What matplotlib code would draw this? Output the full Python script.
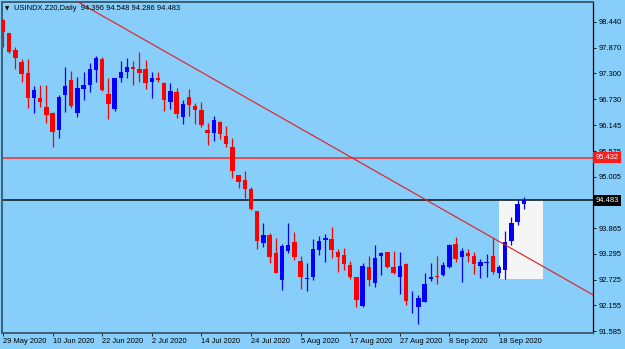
import matplotlib
matplotlib.use("Agg")
import matplotlib.pyplot as plt
from matplotlib.patches import Rectangle

# ---------------- data ----------------
opens = [98.484, 98.189, 97.819, 97.559, 97.302, 96.747, 96.747, 96.548, 96.428, 96.044,
         96.821, 97.153, 96.428, 96.954, 97.042, 97.375, 97.619, 96.843, 96.510, 97.191,
         97.324, 97.448, 97.397, 97.397, 97.102, 97.204, 97.080, 96.659, 96.894, 96.339,
         96.770, 96.583, 96.488, 96.044, 95.971, 96.228, 95.911, 95.660, 95.046, 94.935,
         94.735, 94.247, 93.531, 93.715, 93.309, 92.710, 93.360, 93.553, 93.143, 92.746,
         92.777, 93.382, 93.604, 93.626, 93.345, 93.271, 93.056, 92.783, 92.133, 93.005,
         92.639, 93.238, 93.327, 93.005, 92.777, 93.072, 92.178, 92.125, 92.235, 92.732,
         92.812, 92.828, 93.012, 93.509, 93.234, 93.322, 93.249, 93.034, 93.098, 93.249,
         92.865, 92.939, 93.589, 94.010, 94.396]
highs = [98.507, 98.200, 97.879, 97.613, 97.619, 97.027, 97.042, 97.042, 96.440, 96.821,
         97.448, 97.360, 97.227, 97.338, 97.524, 97.686, 97.670, 97.191, 97.200, 97.575,
         97.648, 97.582, 97.768, 97.597, 97.324, 97.324, 97.100, 97.080, 96.983, 96.710,
         96.947, 96.643, 96.659, 96.193, 96.355, 96.235, 96.133, 95.860, 95.050, 95.141,
         94.786, 94.250, 93.975, 93.766, 93.642, 93.515, 93.988, 93.788, 93.249, 93.094,
         93.620, 93.693, 93.726, 93.886, 93.400, 93.416, 93.138, 92.790, 93.087, 93.249,
         93.493, 93.338, 93.330, 93.360, 93.345, 93.087, 92.473, 92.384, 92.865, 93.087,
         93.256, 93.109, 93.510, 93.677, 93.433, 93.404, 93.345, 93.183, 93.287, 93.642,
         93.050, 93.804, 94.108, 94.491, 94.548]
lows = [97.892, 97.746, 97.391, 97.116, 96.539, 96.415, 96.561, 96.193, 95.674, 95.860,
        96.450, 96.526, 96.339, 96.710, 96.894, 97.116, 96.909, 96.288, 96.466, 97.116,
        97.191, 97.042, 97.116, 96.954, 96.761, 97.116, 96.472, 96.510, 96.317, 96.166,
        96.355, 96.171, 96.117, 95.712, 95.807, 95.838, 95.660, 94.973, 94.764, 94.529,
        94.270, 93.398, 93.442, 93.101, 92.870, 92.495, 93.309, 93.160, 92.517, 92.462,
        92.706, 93.271, 93.123, 93.198, 92.901, 92.939, 92.743, 92.107, 92.120, 92.584,
        92.568, 92.817, 92.980, 92.850, 92.402, 92.162, 91.978, 91.734, 92.220, 92.701,
        92.628, 92.812, 92.990, 93.109, 92.679, 93.123, 92.843, 92.768, 92.790, 92.843,
        92.755, 92.739, 93.493, 93.937, 94.286]
closes = [98.225, 97.781, 97.648, 97.280, 96.747, 96.932, 96.672, 96.377, 96.007, 96.783,
          97.027, 96.583, 96.969, 97.042, 97.397, 97.635, 96.932, 96.621, 97.191, 97.324,
          97.448, 97.404, 97.315, 97.094, 97.191, 97.160, 96.710, 96.909, 96.393, 96.621,
          96.599, 96.488, 96.155, 95.971, 96.266, 95.949, 95.734, 95.141, 94.897, 94.729,
          94.285, 93.589, 93.715, 93.220, 92.879, 93.478, 93.493, 93.234, 92.790, 92.768,
          93.398, 93.589, 93.642, 93.393, 93.216, 93.061, 92.790, 92.262, 93.038, 92.717,
          93.205, 93.316, 92.994, 92.879, 93.027, 92.251, 92.190, 92.324, 92.628, 92.777,
          92.790, 93.050, 93.493, 93.183, 93.360, 93.249, 93.065, 93.123, 93.120, 92.888,
          92.998, 93.553, 93.988, 94.403, 94.483]

date_labels = ["29 May 2020", "10 Jun 2020", "22 Jun 2020", "2 Jul 2020", "14 Jul 2020",
               "24 Jul 2020", "5 Aug 2020", "17 Aug 2020", "27 Aug 2020", "8 Sep 2020",
               "18 Sep 2020"]
date_bar_index = [0, 8, 16, 24, 32, 40, 48, 56, 64, 72, 80]

price_ticks = [98.440, 97.870, 97.300, 96.730, 96.145, 95.575, 95.005, 94.435,
               93.865, 93.295, 92.725, 92.155, 91.585]
# the 94.435 label sits completely under the current-price tag in the reference
price_tick_labels = ["98.440", "97.870", "97.300", "96.730", "96.145", "95.575", "95.005",
                     "", "93.865", "93.295", "92.725", "92.155", "91.585"]

red_level = 95.432
last_price = 94.483
trend_bars = [12.1, 95.2]
trend_prices = [98.884, 92.384]
rect_bars = [80.0, 87.05]
rect_prices = [92.74, 94.483]
title_text = "USINDX.Z20,Daily  94.396 94.548 94.286 94.483"

# ---------------- style ----------------
BG = "#87CEFA"
BULL = "#0000FF"
BEAR = "#FF0000"
FRAME = "#3E5F73"
FONT = "Liberation Sans"
FS = 5.4

W, H = 625, 349
fig = plt.figure(figsize=(W / 100, H / 100), dpi=100, facecolor=BG)
ax = fig.add_axes([2 / W, (H - 332.5) / H, 591.3 / W, 330.8 / H])
ax.set_facecolor(BG)

spacing = 6.2
xmin = -1 / spacing
ax.set_xlim(xmin, xmin + 591.3 / spacing)
ax.set_ylim(91.552, 98.890)

# rectangle object
ax.add_patch(Rectangle((rect_bars[0], rect_prices[0]), rect_bars[1] - rect_bars[0],
                       rect_prices[1] - rect_prices[0], facecolor="#F5F5F5",
                       edgecolor="none", zorder=1))

# horizontal lines
ax.axhline(red_level, color="#FF2A2A", lw=1.1, zorder=1.5)
ax.axhline(last_price, color="#1F2F3A", lw=1.3, zorder=1.5)

# trend line (extended along its direction, clipped by axes)
slope = (trend_prices[1] - trend_prices[0]) / (trend_bars[1] - trend_bars[0])
x0, x1 = trend_bars[0] - 10, trend_bars[1] + 10
ax.plot([x0, x1], [trend_prices[0] + slope * (x0 - trend_bars[0]),
                   trend_prices[0] + slope * (x1 - trend_bars[0])],
        color="#E8191E", lw=0.8, zorder=4)

# candles
xs = list(range(len(opens)))
colors = [BULL if c >= o else BEAR for o, c in zip(opens, closes)]
bottoms = [min(o, c) for o, c in zip(opens, closes)]
heights = [max(abs(c - o), 0.012) for o, c in zip(opens, closes)]
ax.vlines(xs, lows, highs, colors=colors, lw=0.9, zorder=2.8)
ax.bar(xs, heights, bottom=bottoms, width=0.68, color=colors, linewidth=0, zorder=3)

# axes / ticks
for side in ["left", "top", "bottom"]:
    ax.spines[side].set_color(FRAME)
    ax.spines[side].set_linewidth(1.4)
ax.spines["right"].set_color("black")
ax.spines["right"].set_linewidth(0.9)

ax.yaxis.tick_right()
ax.set_yticks(price_ticks)
ax.set_yticklabels(price_tick_labels, fontfamily=FONT)
ax.tick_params(axis="y", direction="out", length=2.5, width=0.6, pad=1.5,
               labelsize=FS, colors="black")

ax.set_xticks(date_bar_index)
ax.set_xticklabels(date_labels, fontfamily=FONT)
for lbl in ax.get_xticklabels():
    lbl.set_horizontalalignment("left")
ax.tick_params(axis="x", direction="out", length=2.5, width=0.6, pad=1.2,
               labelsize=FS, colors="black")

# price tags on the right scale
ax.text(1.004, red_level, "95.432", transform=ax.get_yaxis_transform(), ha="left",
        va="center", color="white", fontsize=FS, fontfamily=FONT, clip_on=False,
        zorder=10, bbox=dict(boxstyle="square,pad=0.3", fc="#FF1A1A", ec="none"))
ax.text(1.004, last_price, "94.483", transform=ax.get_yaxis_transform(), ha="left",
        va="center", color="white", fontsize=FS, fontfamily=FONT, clip_on=False,
        zorder=10, bbox=dict(boxstyle="square,pad=0.3", fc="#000000", ec="none"))

# title
fig.text(5 / W, 1 - 8.5 / H, "\u25BC", fontsize=4, va="center", ha="left", color="black",
         family="DejaVu Sans")
fig.text(14 / W, 1 - 8.5 / H, title_text, fontsize=FS, va="center", ha="left",
         color="black", family=FONT, zorder=20)

fig.savefig("out.png", dpi=100, facecolor=BG)
